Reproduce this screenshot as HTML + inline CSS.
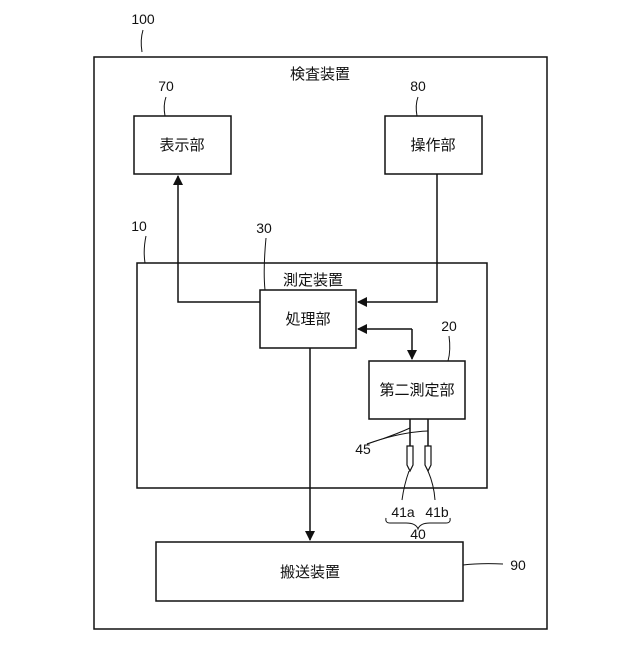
<!DOCTYPE html>
<html><head><meta charset="utf-8"><style>
html,body{margin:0;padding:0;background:#fff;}
svg text{font-family:"Liberation Sans","Noto Sans CJK JP",sans-serif;fill:#111;}
</style></head><body>
<svg width="640" height="640" viewBox="0 0 640 640" xmlns="http://www.w3.org/2000/svg">
<defs>
<marker id="ah" markerWidth="10" markerHeight="10" refX="9" refY="5" orient="auto" markerUnits="userSpaceOnUse">
<path d="M0,0 L10,5 L0,10 z" fill="#111"/>
</marker>
</defs>
<g fill="none" stroke="#111" stroke-width="1.5">
<rect x="94" y="57" width="453" height="572"/>
<rect x="134" y="116" width="97" height="58"/>
<rect x="385" y="116" width="97" height="58"/>
<rect x="137" y="263" width="350" height="225"/>
<rect x="260" y="290" width="96" height="58"/>
<rect x="369" y="361" width="96" height="58"/>
<rect x="156" y="542" width="307" height="59"/>
<polyline points="260,302 178,302 178,176" marker-end="url(#ah)"/>
<polyline points="437,174 437,302 358,302" marker-end="url(#ah)"/>
<polyline points="412,329 412,359" marker-end="url(#ah)"/>
<line x1="412" y1="329" x2="358" y2="329" marker-end="url(#ah)"/>
<line x1="310" y1="348" x2="310" y2="540" marker-end="url(#ah)"/>
<line x1="410" y1="419" x2="410" y2="446"/>
<line x1="428" y1="419" x2="428" y2="446"/>
<path d="M407,446 L413,446 L413,465 L410,471 L407,465 Z" stroke-width="1.2"/>
<path d="M425,446 L431,446 L431,465 L428,471 L425,465 Z" stroke-width="1.2"/>
<g stroke-width="1">
<path d="M142,52 Q140,40 143,30"/>
<path d="M165,116 Q163,105 166,97"/>
<path d="M417,116 Q415,105 418,97"/>
<path d="M145,263 Q143,250 146,236"/>
<path d="M265,290 Q263,270 266,238"/>
<path d="M448,361 Q451,350 449,336"/>
<path d="M463,565 Q480,563 503,564"/>
<path d="M367,444 Q395,435 410,428"/>
<path d="M367,444 Q400,432 428,431"/>
<path d="M409,471 Q404,485 402,500"/>
<path d="M428,471 Q434,485 435,500"/>
<path d="M386,518 Q385,523 390,523 L406,523 Q416,523 418,529 Q420,523 430,523 L446,523 Q451,523 450,518"/>
</g>
</g>
<g font-size="14" text-anchor="middle">
<text x="143" y="24">100</text>
<text x="166" y="91">70</text>
<text x="418" y="91">80</text>
<text x="139" y="231">10</text>
<text x="264" y="233">30</text>
<text x="449" y="331">20</text>
<text x="518" y="570">90</text>
<text x="363" y="454">45</text>
<text x="403" y="517">41a</text>
<text x="437" y="517">41b</text>
<text x="418" y="539">40</text>
<g font-size="15">
<text x="320" y="79">検査装置</text>
<text x="182" y="150">表示部</text>
<text x="433" y="150">操作部</text>
<text x="313" y="285">測定装置</text>
<text x="308" y="324">処理部</text>
<text x="417" y="395">第二測定部</text>
<text x="310" y="577">搬送装置</text>
</g>
</g>
</svg>
</body></html>
